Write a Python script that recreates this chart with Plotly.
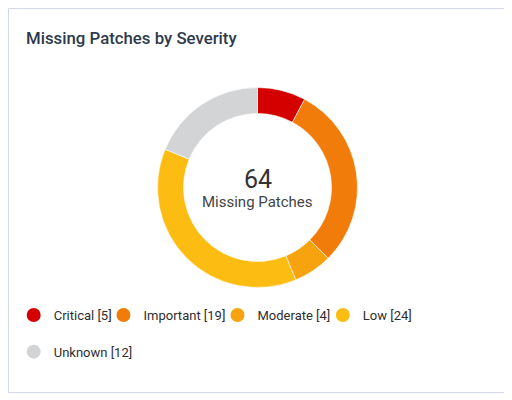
import plotly.graph_objects as go

categories = ["Critical", "Important", "Moderate", "Low", "Unknown"]
values = [5, 19, 4, 24, 12]
colors = ["#d40000", "#f27c0a", "#f7a30f", "#fdbc11", "#d3d4d6"]
total_label = "Missing Patches"
title_text = "Missing Patches by Severity"

W, H = 497, 385
OX, OY = 8, 8  # page offset of the figure (body margin)
total = sum(values)


def px(x):
    return (x - OX) / W


def py(y):
    return 1 - (y - OY) / H


fig = go.Figure()
fig.add_trace(go.Pie(
    labels=categories, values=values, sort=False, direction="clockwise", rotation=0,
    hole=0.74, marker=dict(colors=colors, line=dict(color="white", width=0.6)),
    textinfo="none", hoverinfo="label+value", showlegend=False,
    domain=dict(x=[px(157.5), px(357.5)], y=[py(287.5), py(87.5)]),
))

# legend entry anchor (circle centre) positions on the card
legend_pos = [(34.7, 315), (124.5, 315), (238.5, 315), (343.8, 315), (34.7, 351.7)]

legend_common = dict(orientation="h", xanchor="left", yanchor="middle",
                     font=dict(family="Roboto", size=13, color="#2e2e2e"),
                     bgcolor="rgba(0,0,0,0)", itemclick=False, itemdoubleclick=False,
                     borderwidth=0)

legends = {}
for i, (c, v, col) in enumerate(zip(categories, values, colors)):
    key = "legend" if i == 0 else f"legend{i + 1}"
    fig.add_trace(go.Scatter(
        x=[None], y=[None], mode="markers", name=f"{c} [{v}]",
        marker=dict(symbol="circle", size=14, color=col),
        legend=key, hoverinfo="skip",
    ))
    cx, cy = legend_pos[i]
    legends[key] = dict(x=px(cx - 21), y=py(cy), **legend_common)

fig.update_layout(
    width=W, height=H, margin=dict(l=0, r=0, t=0, b=0),
    paper_bgcolor="white", plot_bgcolor="white",
    title=dict(text=title_text, x=px(26), xanchor="left", y=py(38), yanchor="middle",
               xref="container", yref="container",
               font=dict(family="Roboto", size=16.8, color="#2d3a4b", weight=500)),
    xaxis=dict(visible=False), yaxis=dict(visible=False),
    shapes=[dict(type="rect", xref="paper", yref="paper",
                 x0=0.5 / W, x1=1 - 0.5 / W, y0=0.5 / H, y1=1 - 0.5 / H,
                 line=dict(color="#d3d9e6", width=1), fillcolor="rgba(0,0,0,0)", layer="below")],
    annotations=[
        dict(text=str(total), x=px(258), y=py(179), xref="paper", yref="paper",
             showarrow=False, font=dict(family="Roboto", size=25, color="#333333")),
        dict(text=total_label, x=px(258), y=py(202), xref="paper", yref="paper",
             showarrow=False, font=dict(family="Roboto", size=15, color="#444444")),
    ],
    **legends,
)

fig.write_html("out.html")
